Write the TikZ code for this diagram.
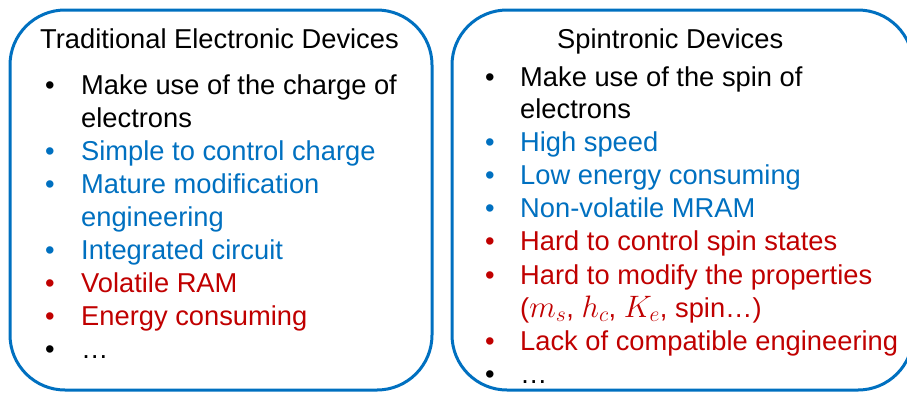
\RequirePackage{fix-cm}
\documentclass[tikz,border=0pt]{standalone}
\usepackage{fontspec}
\setmainfont{Liberation Sans}
\definecolor{ppblue}{HTML}{0070C0}
\definecolor{ppred}{HTML}{C00000}
\newcommand{\symb}[1]{{\fontsize{31}{33}\selectfont$#1$}}
\begin{document}
\begin{tikzpicture}[x=1pt,y=-1pt,
  every node/.style={inner sep=0pt,anchor=base west,font=\fontsize{27.3}{33}\selectfont},
  card/.style={draw=ppblue,line width=3pt,rounded corners=55pt},
  dot/.style={anchor=base},
  pro/.style={text=ppblue},
  con/.style={text=ppred}]
  \useasboundingbox (0,0) rectangle (907,392);
  % the two cards
  \draw[card] (10,10) rectangle (432,390);
  \draw[card] (452,10) rectangle (913,390);

  % traditional devices
  \node (tt) at (40,48) {Traditional Electronic Devices};
  \node (t1) at (81,94) {Make use of the charge of};
  \node (t1b) at (81,127) {electrons};
  \node[pro] (t2) at (81,160) {Simple to control charge};
  \node[pro] (t3) at (81,193) {Mature modification};
  \node[pro] (t3b) at (81,226) {engineering};
  \node[pro] (t4) at (81,259) {Integrated circuit};
  \node[con] (t5) at (81,292) {Volatile RAM};
  \node[con] (t6) at (81,325) {Energy consuming};
  \node (t7) at (81,358) {\dots};
  \foreach \n/\y/\c in {1/94/black, 2/160/ppblue, 3/193/ppblue, 4/259/ppblue,
    5/292/ppred, 6/325/ppred, 7/358/black}
    \node[dot,text=\c] (tb\n) at (50,\y) {•};

  % spintronic devices
  \node (st) at (557,48) {Spintronic Devices};
  \node (s1) at (520,86) {Make use of the spin of};
  \node (s1b) at (520,118) {electrons};
  \node[pro] (s2) at (520,151) {High speed};
  \node[pro] (s3) at (520,184) {Low energy consuming};
  \node[pro] (s4) at (520,217) {Non-volatile MRAM};
  \node[con] (s5) at (520,250) {Hard to control spin states};
  \node[con] (s6) at (520,284) {Hard to modify the properties};
  \node[con] (s6b) at (520,317) {(\symb{m_s}, \symb{h_c}, \symb{K_e}, spin\dots)};
  \node[con] (s7) at (520,350) {Lack of compatible engineering};
  \node (s8) at (520,383) {\dots};
  \foreach \n/\y/\c in {1/86/black, 2/151/ppblue, 3/184/ppblue, 4/217/ppblue,
    5/250/ppred, 6/284/ppred, 7/350/ppred, 8/383/black}
    \node[dot,text=\c] (sb\n) at (490,\y) {•};
\end{tikzpicture}
\end{document}
